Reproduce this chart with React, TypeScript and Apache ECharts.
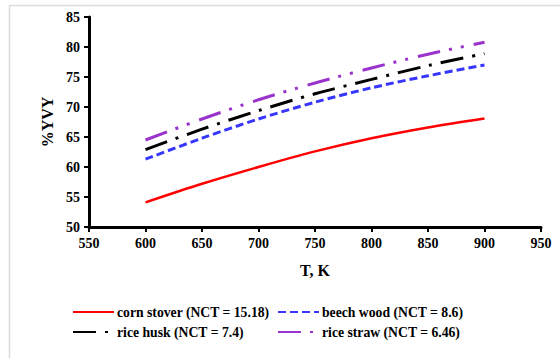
import React, { useEffect, useRef } from "react";
import * as echarts from "echarts";

const temps = [600, 650, 700, 750, 800, 850, 900];
const cornStover = [54.1, 57.2, 60.0, 62.6, 64.8, 66.6, 68.1];
const beechWood = [61.3, 64.8, 68.0, 70.8, 73.2, 75.2, 77.0];
const riceHusk = [62.9, 66.3, 69.4, 72.2, 74.6, 76.9, 78.9];
const riceStraw = [64.5, 68.0, 71.2, 74.0, 76.5, 78.8, 80.8];
const seriesNames = [
  "corn stover (NCT = 15.18)",
  "beech wood (NCT = 8.6)",
  "rice husk (NCT = 7.4)",
  "rice straw (NCT = 6.46)",
];

const FONT = "Times New Roman, serif";

export default function App() {
  const ref = useRef<HTMLDivElement>(null);
  useEffect(() => {
    if (!ref.current) return;
    const chart = echarts.init(ref.current, undefined, { renderer: "svg" });
    const pair = (arr: number[]) => temps.map((t, i) => [t, arr[i]]);
    const legendText = {
      fontFamily: FONT,
      fontWeight: "bold" as const,
      fontSize: 13.7,
      color: "#000",
      padding: [0, 0, 0, -2],
    };
    const legendCommon = {
      orient: "vertical" as const,
      top: 305,
      padding: 0,
      itemWidth: 41,
      itemHeight: 12,
      itemGap: 6,
      textStyle: legendText,
      itemStyle: { opacity: 0 },
    };
    chart.setOption({
      animation: false,
      backgroundColor: "#fff",
      textStyle: { fontFamily: FONT },
      graphic: [
        {
          type: "rect",
          shape: { x: 9.5, y: 5.5, width: 560, height: 400 },
          style: { fill: "none", stroke: "#dcdcdc", lineWidth: 1.5 },
          silent: true,
        },
      ],
      grid: { left: 89, right: 19, top: 17, bottom: 131 },
      legend: [
        { ...legendCommon, left: 72, data: [seriesNames[0], seriesNames[2]] },
        { ...legendCommon, left: 277, data: [seriesNames[1], seriesNames[3]] },
      ],
      xAxis: {
        type: "value",
        min: 550,
        max: 950,
        interval: 50,
        name: "T, K",
        nameLocation: "middle",
        nameGap: 35,
        nameTextStyle: { fontFamily: FONT, fontWeight: "bold", fontSize: 16, color: "#000" },
        axisLine: { show: true, lineStyle: { color: "#000", width: 3 } },
        axisTick: { show: true, inside: false, length: 5, lineStyle: { color: "#000", width: 2 } },
        axisLabel: { fontFamily: FONT, fontWeight: "bold", fontSize: 14, color: "#000", margin: 9 },
        splitLine: { show: false },
      },
      yAxis: {
        type: "value",
        min: 50,
        max: 85,
        interval: 5,
        name: "%YVY",
        nameLocation: "middle",
        nameGap: 32,
        nameRotate: 90,
        nameTextStyle: { fontFamily: FONT, fontWeight: "bold", fontSize: 16, color: "#000" },
        axisLine: { show: true, lineStyle: { color: "#000", width: 3 } },
        axisTick: { show: true, inside: false, length: 5, lineStyle: { color: "#000", width: 2 } },
        axisLabel: { fontFamily: FONT, fontWeight: "bold", fontSize: 14, color: "#000", margin: 9 },
        splitLine: { show: false },
      },
      series: [
        {
          name: seriesNames[0],
          type: "line",
          data: pair(cornStover),
          smooth: 0.3,
          symbol: "none",
          lineStyle: { color: "#ff0000", width: 2.5, type: "solid" },
          itemStyle: { color: "#ff0000" },
        },
        {
          name: seriesNames[1],
          type: "line",
          data: pair(beechWood),
          smooth: 0.3,
          symbol: "none",
          lineStyle: { color: "#3636ff", width: 3, type: [8, 4] },
          itemStyle: { color: "#3636ff" },
        },
        {
          name: seriesNames[2],
          type: "line",
          data: pair(riceHusk),
          smooth: 0.3,
          symbol: "none",
          lineStyle: { color: "#000000", width: 3, type: [23, 9, 3, 9] },
          itemStyle: { color: "#000000" },
        },
        {
          name: seriesNames[3],
          type: "line",
          data: pair(riceStraw),
          smooth: 0.3,
          symbol: "none",
          lineStyle: { color: "#9933cc", width: 3, type: [23, 9, 3, 9, 3, 10] },
          itemStyle: { color: "#9933cc" },
        },
      ],
    });
    return () => chart.dispose();
  }, []);
  return <div ref={ref} style={{ width: 560, height: 358, position: "absolute", left: 0, top: 0 }} />;
}
